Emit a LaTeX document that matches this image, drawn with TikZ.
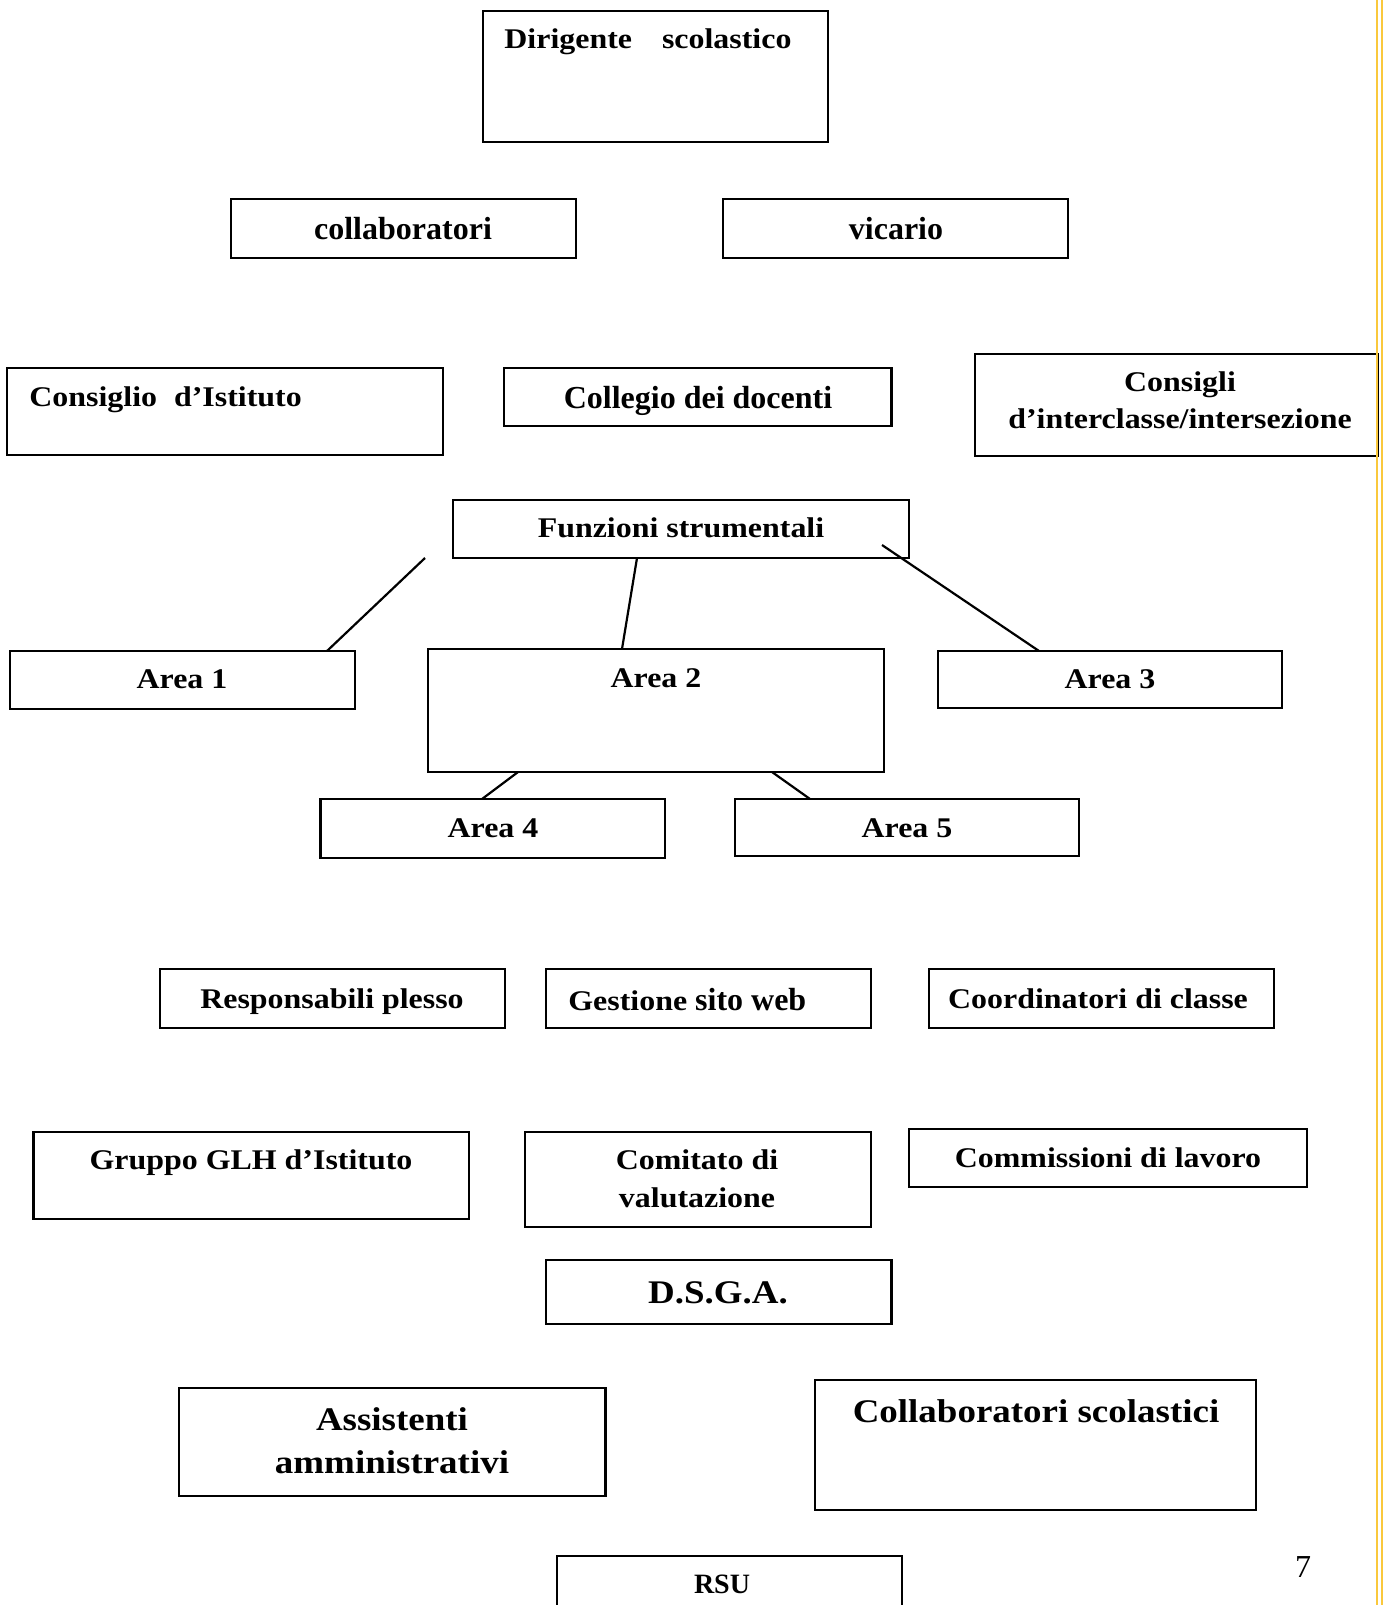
\documentclass[tikz,border=0pt]{standalone}
\usepackage{fontspec}
\setmainfont{Liberation Serif}
\newfontfamily\goudy[FakeStretch=1.12]{Liberation Serif}
\usetikzlibrary{fit,calc}
\definecolor{ylw}{RGB}{250,200,60}
\tikzset{
  bx/.style={draw, line width=1.1pt, inner sep=0pt, outer sep=0pt},
  gt/.style={font=\goudy\bfseries\fontsize{14.25}{17}\selectfont, inner sep=0pt, anchor=base},
  gT/.style={font=\goudy\bfseries\fontsize{16.5}{20}\selectfont, inner sep=0pt, anchor=base},
  tt/.style={font=\bfseries\fontsize{16}{19}\selectfont, inner sep=0pt, anchor=base},
  ln/.style={line width=1.1pt},
  yl/.style={draw=ylw, line width=0.8pt}
}
\begin{document}
\begin{tikzpicture}[x=0.5pt, y=-0.5pt]
\useasboundingbox (0,0) rectangle (1384,1605);
% boxes
\node[bx, fit={(483,11) (828,142)}] (dir) {};
\node[bx, fit={(231,199) (576,258)}] (coll) {};
\node[bx, fit={(723,199) (1068,258)}] (vic) {};
\node[bx, fit={(7,368) (443,455)}] (cdi) {};
\node[bx, fit={(504,368) (891.5,426)}] (cdd) {};
\node[bx, fit={(975,354) (1378,456)}] (cons) {};
\node[bx, fit={(453,500) (909,558)}] (fs) {};
\node[bx, fit={(10,651) (355,709)}] (a1) {};
\node[bx, fit={(428,649) (884,772)}] (a2) {};
\node[bx, fit={(938,651) (1282,708)}] (a3) {};
\node[bx, fit={(320.5,799) (665,858)}] (a4) {};
\node[bx, fit={(735,799) (1079,856)}] (a5) {};
\node[bx, fit={(160,969) (505,1028)}] (resp) {};
\node[bx, fit={(546,969) (871,1028)}] (gest) {};
\node[bx, fit={(929,969) (1274,1028)}] (coord) {};
\node[bx, fit={(33.5,1132) (469,1219)}] (glh) {};
\node[bx, fit={(525,1132) (871,1227)}] (comit) {};
\node[bx, fit={(909,1129) (1307,1187)}] (comm) {};
\node[bx, fit={(546,1260) (891.5,1324)}] (dsga) {};
\node[bx, fit={(179,1388) (605.5,1496)}] (assist) {};
\node[bx, fit={(815,1380) (1256,1510)}] (collsc) {};
\node[bx, fit={(557,1556) (902,1625)}] (rsu) {};
% texts
\node[gt, anchor=base west] (dirT) at (504,49) {Dirigente\hspace{15pt}scolastico};
\node[tt] (collT) at (403,240) {collaboratori};
\node[tt] (vicT) at (896,240) {vicario};
\node[gt, anchor=base west] (cdiT) at (29,406) {Consiglio\hspace{8.5pt}d’Istituto};
\node[tt] (cddT) at (698,408) {Collegio dei docenti};
\node[gt] (consT1) at (1180,391) {Consigli};
\node[gt] (consT2) at (1180,428) {d’interclasse/intersezione};
\node[gt] (fsT) at (681,537) {Funzioni strumentali};
\node[gt] (a1T) at (182,688) {Area 1};
\node[gt] (a2T) at (656,687) {Area 2};
\node[gt] (a3T) at (1110,688) {Area 3};
\node[gt] (a4T) at (493,837) {Area 4};
\node[gt] (a5T) at (907,837) {Area 5};
\node[gt] (respT) at (332,1008) {Responsabili plesso};
\node[gt, anchor=base west] (gestT) at (568,1010) {Gestione {\normalfont\bfseries\fontsize{16}{19}\selectfont sito web}};
\node[gt] (coordT) at (1098,1008) {Coordinatori di classe};
\node[gt] (glhT) at (251,1169) {Gruppo GLH d’Istituto};
\node[gt] (comitT1) at (697,1169) {Comitato di};
\node[gt] (comitT2) at (697,1207) {valutazione};
\node[gt] (commT) at (1108,1167) {Commissioni di lavoro};
\node[gT] (dsgaT) at (718,1303) {D.S.G.A.};
\node[gT] (assistT1) at (392,1430) {Assistenti};
\node[gT] (assistT2) at (392,1473) {amministrativi};
\node[gT] (collscT) at (1036,1422) {Collaboratori scolastici};
\node[tt, font=\bfseries\fontsize{14}{17}\selectfont] (rsuT) at (722,1593) {RSU};
\node[font=\fontsize{16}{19}\selectfont, inner sep=0pt, anchor=base] (pg) at (1303,1577) {7};
% connectors
\coordinate (free1) at (425,558);
\draw[ln] (free1) -- ($(a1.north west)+(317,0)$);
\draw[ln] ($(fs.south west)+(184,0)$) -- ($(a2.north west)+(194,0)$);
\draw[ln] ($(fs.north west)+(429,45)$) -- ($(a3.north west)+(101,0)$);
\draw[ln] ($(a2.south west)+(90,0)$) -- ($(a4.north west)+(161.5,0)$);
\draw[ln] ($(a2.south west)+(344,0)$) -- ($(a5.north west)+(75,0)$);
% yellow margin lines
\coordinate (yA) at (1377,0);
\coordinate (yB) at (1377,1605);
\coordinate (yC) at (1382,0);
\coordinate (yD) at (1382,1605);
\draw[yl] (yA) -- (yB);
\draw[yl] (yC) -- (yD);
\end{tikzpicture}
\end{document}
